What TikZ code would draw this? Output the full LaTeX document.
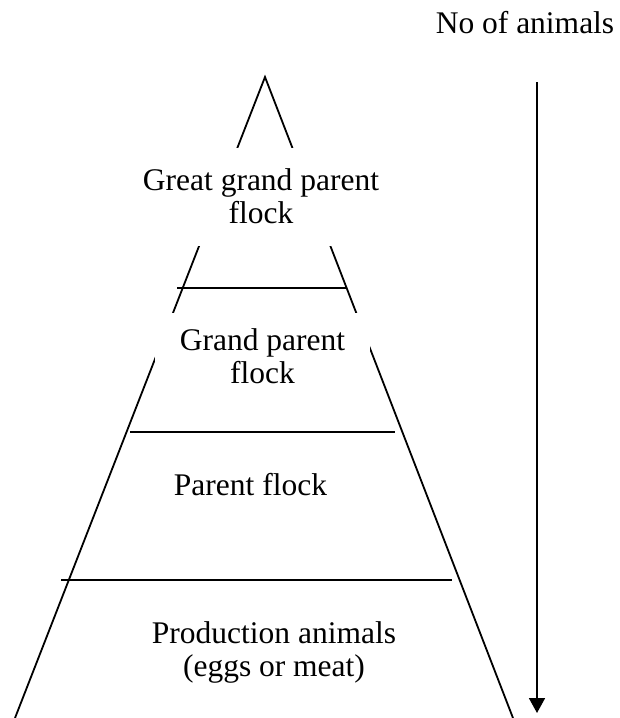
\documentclass[tikz,border=0pt]{standalone}
\usepackage{fontspec}
\setmainfont{Liberation Serif}
\usetikzlibrary{arrows.meta}
\begin{document}
\begin{tikzpicture}[x=1pt,y=-1pt,
  edge/.style={line width=1.8pt, black},
  lbl/.style={font=\fontsize{31.5}{33}\selectfont, align=center, inner sep=0pt},
  textbox/.style={lbl, fill=white}]
\useasboundingbox (0,0) rectangle (619,718);

% pyramid outline
\coordinate (apex) at (265,77);
\coordinate (bl) at (15,718);
\coordinate (br) at (513,718);
\draw[edge] (bl) -- (apex) -- (br);

% level dividers
\coordinate (d1l) at (177,288);  \coordinate (d1r) at (347,288);
\coordinate (d2l) at (130,432);  \coordinate (d2r) at (395,432);
\coordinate (d3l) at (61,580);   \coordinate (d3r) at (452,580);
\draw[edge] (d1l) -- (d1r);
\draw[edge] (d2l) -- (d2r);
\draw[edge] (d3l) -- (d3r);

% level labels (white boxes hide the outline behind them)
\node[textbox, minimum width=280pt, minimum height=98pt] (ggp) at (261,196.5)
  {Great grand parent\\flock};
\node[textbox, minimum width=215pt, minimum height=86pt] (gp) at (262.5,356)
  {Grand parent\\flock};
\node[lbl, anchor=base] (pf) at (250.5,495) {Parent flock};
\node[lbl] (prod) at (274,652.3) {Production animals\\(eggs or meat)};

% quantity axis
\node[lbl, anchor=base] (axis) at (525,33) {No of animals};
\coordinate (atop) at (537,82);
\coordinate (abot) at (537,713);
\draw[edge, -{Triangle[width=16pt,length=15pt]}] (atop) -- (abot);
\end{tikzpicture}
\end{document}
